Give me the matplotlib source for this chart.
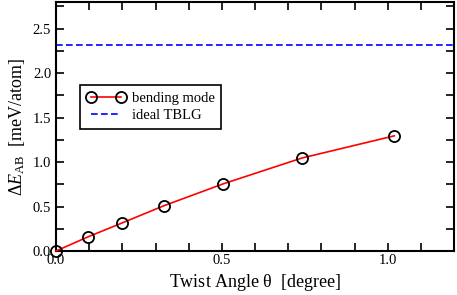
import matplotlib
matplotlib.use("Agg")
import numpy as np
from matplotlib import pyplot as plt
from matplotlib.ticker import MultipleLocator

# twist angle (degree) and energy difference (meV/atom)
theta = [0.0, 0.097, 0.199, 0.326, 0.504, 0.741, 1.02]
bending = [0.0, 0.16, 0.315, 0.51, 0.755, 1.045, 1.295]
ideal_tblg = 2.32

plt.rcParams['font.family'] = ['Liberation Serif', 'DejaVu Serif']
plt.rcParams['mathtext.fontset'] = 'custom'
plt.rcParams['mathtext.rm'] = 'Liberation Serif'
plt.rcParams['mathtext.it'] = 'Liberation Serif:italic'

fig = plt.figure(figsize=(4.57, 2.95), dpi=100)
ax = fig.add_axes([56 / 457, 44 / 295, 398 / 457, 249 / 295])

ax.plot(theta, bending, color='red', lw=1.2, marker='o', markersize=8,
        markerfacecolor='none', markeredgecolor='black', markeredgewidth=1.3,
        label='bending mode', zorder=3, clip_on=False)
ax.axhline(ideal_tblg, color='blue', lw=1.2, ls=(0, (4, 2)), label='ideal TBLG')

ax.set_xlim(0, 1.2)
ax.set_ylim(0, 2.8)
ax.xaxis.set_major_locator(MultipleLocator(0.5))
ax.xaxis.set_minor_locator(MultipleLocator(0.1))
ax.yaxis.set_major_locator(MultipleLocator(0.5))
ax.yaxis.set_minor_locator(MultipleLocator(0.25))
ax.tick_params(which='both', direction='in', top=True, right=True, width=1.2,
               length=6, labelsize=10.5)
ax.tick_params(axis='x', pad=2)
for s in ax.spines.values():
    s.set_linewidth(1.5)

ax.set_xlabel(r'Twist Angle $\mathrm{\theta}$  [degree]', fontsize=13)
ax.set_ylabel(r'$\Delta E_{\mathrm{AB}}$  [meV/atom]', fontsize=13)

leg = ax.legend(loc='upper left', bbox_to_anchor=(24 / 398, 166 / 249),
                borderaxespad=0, fontsize=10.5, numpoints=2,
                frameon=True, fancybox=False, edgecolor='black', framealpha=1,
                handlelength=2.66, handletextpad=0.45, borderpad=0.45,
                labelspacing=0.3)
leg.get_frame().set_linewidth(1.2)

fig.savefig('out.png', dpi=100)
